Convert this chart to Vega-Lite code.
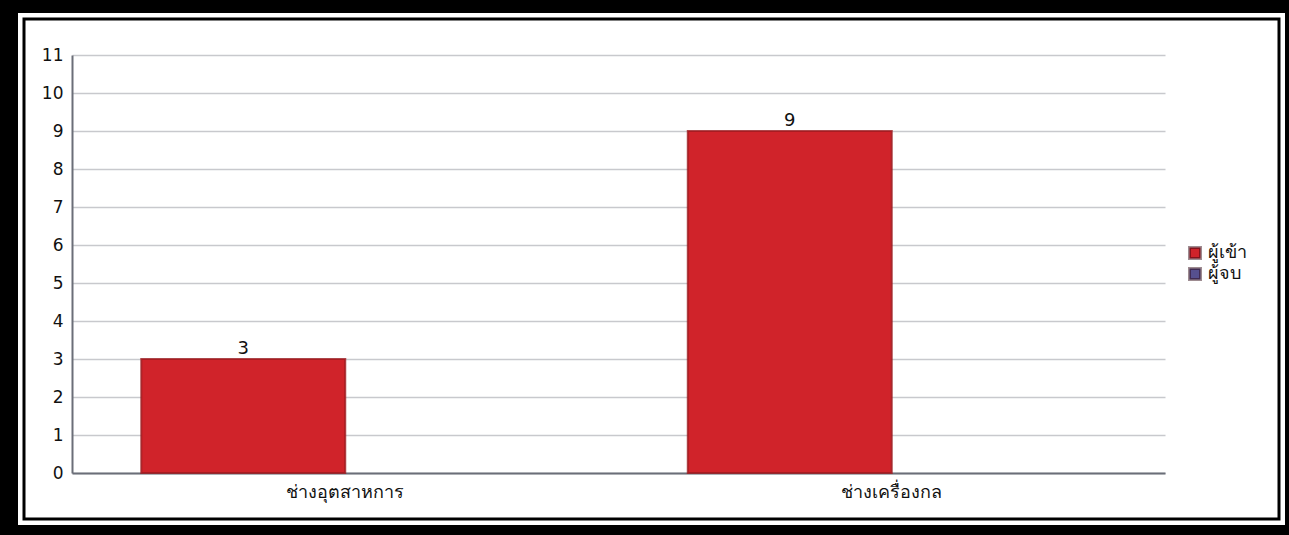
{
  "$schema": "https://vega.github.io/schema/vega-lite/v6.json",
  "autosize": {"type": "none"},
  "width": 1255,
  "height": 500,
  "padding": {"left": 24, "top": 19, "right": 10, "bottom": 16},
  "background": "#000000",
  "config": {
    "view": {"fill": "#ffffff", "stroke": null},
    "font": "DejaVu Sans"
  },
  "datasets": {
    "counts": [
      {"branch": "ช่างอุตสาหการ", "series": "ผู้เข้า", "value": 3},
      {"branch": "ช่างอุตสาหการ", "series": "ผู้จบ", "value": 0},
      {"branch": "ช่างเครื่องกล", "series": "ผู้เข้า", "value": 9},
      {"branch": "ช่างเครื่องกล", "series": "ผู้จบ", "value": 0}
    ],
    "frame": [{"part": "frame"}]
  },
  "layer": [
    {
      "data": {"name": "frame"},
      "mark": {"type": "rect", "filled": false, "stroke": "#ffffff", "strokeWidth": 12},
      "encoding": {}
    },
    {
      "data": {"name": "frame"},
      "mark": {"type": "rect", "filled": false, "stroke": "#000000", "strokeWidth": 3},
      "encoding": {}
    },
    {
      "data": {"name": "counts"},
      "transform": [{"filter": "datum.value > 0"}],
      "mark": {"type": "bar", "stroke": "#9c1a1f", "strokeWidth": 2, "strokeOpacity": 0.8},
      "encoding": {
        "x": {
          "field": "branch",
          "type": "nominal",
          "sort": ["ช่างอุตสาหการ", "ช่างเครื่องกล"],
          "scale": {"range": [48, 1141], "paddingInner": 0.2535, "paddingOuter": 0.12675},
          "axis": {
            "title": null,
            "labelAngle": 0,
            "offset": -46,
            "ticks": false,
            "domainColor": "#6b6e78",
            "domainWidth": 2,
            "labelFontSize": 18,
            "labelColor": "#111111",
            "labelPadding": 10,
            "grid": false
          }
        },
        "xOffset": {
          "field": "series",
          "type": "nominal",
          "scale": {"domain": ["ผู้เข้า", "ผู้จบ"], "paddingInner": 0, "paddingOuter": 0}
        },
        "y": {
          "field": "value",
          "type": "quantitative",
          "scale": {"domain": [0, 11], "nice": false, "range": [454, 36]},
          "axis": {
            "title": null,
            "values": [0, 1, 2, 3, 4, 5, 6, 7, 8, 9, 10, 11],
            "offset": -48,
            "ticks": false,
            "domainColor": "#6b6e78",
            "domainWidth": 2,
            "gridColor": "#c8c9cd",
            "gridWidth": 1.5,
            "labelFontSize": 17,
            "labelColor": "#111111",
            "labelPadding": 9
          }
        },
        "color": {
          "field": "series",
          "type": "nominal",
          "scale": {"domain": ["ผู้เข้า", "ผู้จบ"], "range": ["#d0232a", "#56508f"]},
          "legend": {
            "title": null,
            "orient": "none",
            "legendX": 1162,
            "legendY": 225,
            "padding": 0,
            "symbolType": "square",
            "symbolSize": 121,
            "symbolStrokeColor": "rgba(40,0,10,0.45)",
            "symbolStrokeWidth": 3,
            "labelFontSize": 18,
            "labelColor": "#111111",
            "labelOffset": 4,
            "rowPadding": -3
          }
        }
      }
    },
    {
      "data": {"name": "counts"},
      "transform": [{"filter": "datum.value > 0"}],
      "mark": {"type": "text", "baseline": "bottom", "dy": -1, "fontSize": 18, "color": "#111111"},
      "encoding": {
        "x": {"field": "branch", "type": "nominal", "sort": ["ช่างอุตสาหการ", "ช่างเครื่องกล"]},
        "xOffset": {"field": "series", "type": "nominal"},
        "y": {"field": "value", "type": "quantitative"},
        "text": {"field": "value", "type": "quantitative"}
      }
    }
  ]
}
